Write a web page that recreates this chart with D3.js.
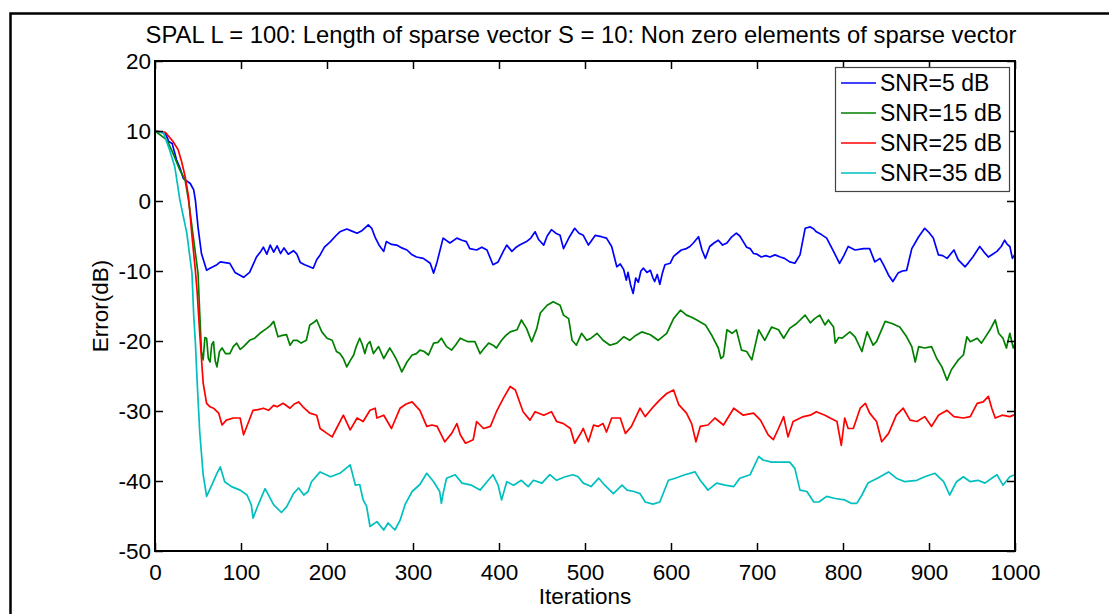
<!DOCTYPE html>
<html>
<head>
<meta charset="utf-8">
<script src="https://cdn.jsdelivr.net/npm/d3@7"></script>
<style>
  html, body { margin: 0; padding: 0; background: #fff; }
  svg { display: block; }
  text { font-family: "Liberation Sans", Arial, sans-serif; fill: #000; }
</style>
</head>
<body>
<svg id="chart" width="1109" height="614"></svg>
<script>
// Error curves (dB) versus iteration for the SPAL sparse-recovery run, one per SNR.
const seriesNames = ["SNR=5 dB", "SNR=15 dB", "SNR=25 dB", "SNR=35 dB"];
const seriesColors = ["#0000ff", "#008000", "#ff0000", "#00bfbf"];

const snr5 = [[0,10],[12,9.7],[16,8.5],[20,8.2],[25,5.9],[29,4.7],[33,3.2],[41,2.5],[45,1.6],[47,0.1],[50,-3.7],[54,-7.5],[60,-9.9],[64,-9.6],[72,-9.1],[76,-8.7],[87,-8.9],[93,-10.2],[103,-10.9],[110,-10.2],[118,-8],[123,-7.2],[126,-6.6],[130,-7.6],[134,-6.3],[138,-7.3],[142,-6.4],[146,-7.5],[150,-6.7],[155,-7.6],[161,-7.1],[165,-7.6],[169,-8.8],[174,-9.1],[184,-9.6],[188,-8.4],[192,-7.7],[197,-6.6],[204,-5.8],[210,-5.0],[215,-4.4],[223,-4.0],[229,-4.3],[235,-4.6],[241,-4.2],[248,-3.4],[252,-3.9],[256,-5.2],[261,-6.4],[266,-7.2],[269,-5.8],[275,-6.2],[281,-6.3],[287,-6.7],[293,-7.0],[298,-7.6],[304,-8.0],[312,-8.2],[320,-8.9],[324,-10.3],[328,-8.7],[335,-5.3],[343,-6.0],[351,-5.3],[357,-5.6],[362,-5.8],[366,-6.8],[374,-7.0],[380,-6.6],[386,-7.0],[393,-9.1],[399,-8.7],[405,-7.2],[409,-6.3],[415,-7.2],[420,-6.6],[424,-6.3],[432,-5.8],[437,-5.3],[442,-4.4],[446,-5.5],[452,-6.3],[456,-5.0],[461,-4.1],[466,-4.6],[471,-4.9],[475,-6.8],[482,-5.1],[488,-3.9],[493,-4.6],[498,-4.9],[504,-6.3],[512,-4.9],[519,-5.1],[525,-5.3],[531,-6.5],[537,-9.4],[541,-9.0],[545,-9.8],[548,-11.3],[550,-10.2],[553,-12.0],[556,-13.2],[559,-11.0],[562,-11.6],[565,-10.0],[568,-9.6],[572,-10.2],[576,-9.9],[579,-11.0],[581,-11.5],[584,-10.5],[587,-11.9],[590,-10.3],[593,-9.1],[599,-8.9],[603,-7.9],[607,-7.5],[612,-7.0],[618,-6.8],[622,-6.5],[626,-6.0],[632,-5.1],[636,-7.0],[640,-8.2],[645,-6.5],[650,-6.0],[655,-5.6],[660,-6.3],[665,-6.0],[670,-5.2],[676,-4.6],[680,-5.0],[684,-5.8],[688,-6.6],[692,-6.8],[696,-7.5],[700,-7.6],[705,-8.0],[710,-7.8],[715,-8.0],[721,-7.7],[727,-8.0],[732,-8.2],[738,-8.7],[744,-8.9],[750,-7.7],[756,-3.9],[762,-3.7],[766,-4.0],[769,-4.4],[775,-4.8],[781,-5.3],[789,-7.2],[796,-8.9],[801,-7.8],[806,-6.5],[814,-7.0],[824,-6.8],[831,-6.8],[837,-8.7],[843,-8.2],[847,-9.1],[853,-10.6],[858,-11.5],[864,-10.3],[869,-10.0],[874,-9.9],[880,-6.8],[888,-5.1],[895,-3.9],[900,-4.5],[905,-5.3],[911,-7.7],[916,-7.8],[921,-8.2],[929,-7.0],[934,-8.4],[942,-9.4],[946,-8.8],[951,-8.0],[959,-6.5],[964,-7.3],[969,-8.0],[974,-7.6],[979,-7.2],[984,-6.5],[988,-5.6],[991,-6.2],[994,-6.5],[997,-8.2],[1000,-7.6]];

const snr15 = [[0,10],[14,8.7],[21,6.8],[29,4.4],[35,3.0],[39,0.1],[45,-5.6],[50,-10.3],[52,-16],[54,-21.5],[56,-22.7],[58,-19.5],[60,-19.6],[62,-22.5],[64,-23],[66,-20.5],[68,-20.1],[70,-22.8],[72,-23.7],[75,-21.5],[78,-21],[82,-21.8],[87,-21.8],[91,-20.8],[95,-20.3],[99,-21.2],[103,-20.8],[110,-19.9],[116,-19.6],[122,-18.9],[130,-18.2],[134,-17.8],[138,-17.2],[143,-19.4],[148,-19.2],[153,-19.1],[157,-20.6],[161,-19.9],[165,-19.9],[170,-20.3],[176,-19.9],[180,-17.7],[184,-17.4],[188,-17.0],[194,-18.7],[200,-19.6],[206,-19.9],[211,-21.5],[215,-21.8],[219,-22.5],[223,-23.7],[227,-22.8],[231,-22],[234,-20.8],[238,-19.6],[241,-20.5],[244,-21.8],[247,-20.5],[250,-20.1],[254,-21.8],[260,-20.8],[266,-22.5],[273,-21],[277,-21.8],[281,-22.7],[287,-24.4],[293,-23],[299,-22],[304,-21.8],[308,-21.3],[313,-21.5],[318,-22],[324,-20.3],[329,-20.2],[333,-19.6],[339,-20.8],[345,-21.3],[350,-20.5],[355,-19.6],[360,-19.9],[364,-20.1],[372,-20.1],[378,-21.8],[383,-21],[388,-20.3],[393,-20.6],[397,-21],[403,-19.9],[408,-19.2],[413,-18.7],[421,-18.4],[426,-17],[432,-18.2],[438,-20.1],[444,-18.2],[448,-16],[456,-14.9],[463,-14.4],[471,-14.9],[475,-16.3],[481,-16.8],[485,-19.9],[490,-20.6],[496,-18.9],[502,-19.9],[507,-19.6],[514,-18.9],[521,-19.9],[529,-20.6],[537,-20.3],[545,-19.4],[552,-19.9],[559,-19.2],[566,-18.7],[576,-19.1],[585,-19.9],[595,-18.9],[603,-16.8],[611,-15.6],[618,-16.3],[624,-16.6],[630,-17],[640,-17.7],[647,-19.1],[655,-21],[658,-22.5],[661,-22.2],[665,-18.4],[671,-18.9],[676,-18.4],[682,-21.3],[688,-21.5],[694,-22.7],[702,-18.4],[709,-19.9],[717,-18],[725,-18.4],[731,-19.6],[738,-18.2],[746,-17.5],[756,-16.3],[762,-17.4],[767,-16.8],[773,-16.3],[779,-17.7],[783,-17],[789,-18],[791,-20.3],[795,-19.5],[799,-19.6],[808,-18.7],[814,-19.4],[822,-21.5],[828,-18.7],[835,-20.6],[839,-20.1],[849,-17.2],[857,-17.5],[866,-18],[874,-19.4],[880,-20.8],[884,-23],[888,-20.8],[895,-21],[903,-20.8],[909,-22.5],[915,-23.7],[921,-25.6],[926,-24.1],[934,-22.7],[940,-22],[944,-19.4],[948,-20.1],[956,-19.6],[961,-20.3],[971,-18.4],[977,-17],[981,-18.9],[986,-19.6],[990,-21],[994,-18.9],[998,-21],[1000,-20.4]];

const snr25 = [[0,10],[12,9.8],[21,8.5],[27,7.3],[31,5.6],[35,3.5],[39,0.6],[43,-5],[47,-10],[49,-13],[52,-18.9],[56,-26],[60,-28.9],[64,-29.4],[68,-29.6],[74,-30.3],[78,-32],[83,-31.3],[91,-31],[99,-31],[103,-33.4],[109,-31.5],[114,-29.9],[120,-29.8],[126,-29.6],[132,-29.9],[138,-29.2],[142,-29.4],[149,-28.9],[157,-29.6],[162,-29.0],[167,-28.7],[172,-29.4],[180,-30.3],[188,-30.6],[192,-32.5],[200,-33.2],[206,-33.7],[211,-32.5],[219,-30.6],[227,-32.7],[235,-31],[242,-31.5],[250,-29.9],[256,-29.6],[258,-31],[266,-30.6],[275,-32.5],[285,-29.6],[292,-29],[299,-28.7],[308,-29.9],[316,-32.2],[322,-32.0],[328,-32.2],[337,-34.4],[345,-33.2],[351,-31.8],[355,-33.4],[361,-34.6],[370,-34.1],[374,-31.5],[382,-32.5],[390,-32.2],[397,-30.1],[405,-28.2],[413,-26.5],[419,-27],[428,-30.1],[436,-31.3],[442,-30.1],[452,-30.6],[461,-30.1],[467,-31.5],[475,-31.8],[483,-32.5],[488,-34.6],[494,-33.4],[498,-32.5],[504,-34.4],[510,-32],[515,-32.2],[521,-31.8],[525,-33],[531,-31],[541,-31],[547,-33.2],[554,-32.2],[564,-29.6],[570,-30.8],[578,-29.6],[587,-28.4],[595,-27.5],[603,-27],[609,-29.1],[618,-30.3],[624,-31.8],[629,-34.4],[634,-32.2],[643,-32],[651,-31],[661,-32],[673,-29.6],[684,-30.6],[696,-30.3],[704,-31.3],[713,-33.4],[719,-34.1],[725,-32.5],[731,-30.8],[736,-33.7],[742,-31.5],[754,-30.8],[762,-30.6],[769,-30.1],[779,-30.6],[785,-31],[793,-31.5],[798,-34.9],[802,-31],[806,-32.5],[812,-32.5],[820,-29.6],[826,-28.9],[831,-30.3],[839,-31.5],[845,-34.4],[853,-33.2],[862,-30.6],[870,-29.6],[878,-31.3],[886,-31.5],[895,-30.8],[903,-32.2],[911,-30.6],[921,-29.9],[929,-30.8],[940,-31],[948,-30.8],[956,-28.9],[963,-28.7],[969,-27.9],[973,-29.6],[977,-31],[985,-30.6],[994,-30.8],[1000,-30.5]];

const snr35 = [[0,10],[10,9.7],[17,7.3],[23,4.9],[29,0.1],[37,-4.6],[43,-10.3],[45,-16.3],[47,-20.3],[49,-25.8],[52,-33],[56,-39.1],[60,-42.2],[66,-40.6],[72,-38.9],[76,-38],[81,-40.1],[89,-40.8],[99,-41.3],[107,-42],[112,-43.4],[114,-45.3],[120,-43.4],[128,-41.1],[138,-43.4],[147,-44.5],[153,-43.7],[161,-41.8],[167,-41],[173,-42],[178,-41.5],[182,-40.1],[192,-38.7],[204,-39.4],[215,-38.9],[227,-37.7],[233,-40.6],[238,-40.5],[242,-42.7],[246,-43.6],[250,-46.5],[258,-45.8],[266,-47],[271,-46],[279,-47],[285,-45.6],[291,-43.3],[299,-41.5],[308,-40.5],[316,-38.9],[324,-40.1],[331,-41.5],[333,-43.2],[335,-41.8],[339,-39.6],[349,-39.1],[357,-40.3],[368,-40.6],[378,-41.3],[386,-40.1],[393,-39.1],[399,-40.6],[403,-42.7],[409,-40.1],[417,-40.6],[426,-39.9],[434,-40.8],[440,-39.9],[450,-40.3],[459,-39.1],[467,-39.9],[477,-39.4],[486,-39.1],[492,-39.4],[498,-40.3],[504,-40.6],[507,-40.8],[516,-39.6],[523,-40.6],[533,-41.8],[543,-40.6],[549,-41.3],[557,-41.5],[564,-41.8],[570,-43],[579,-43.3],[587,-43],[597,-39.9],[605,-39.6],[616,-39.1],[628,-38.7],[634,-39.9],[643,-41.3],[653,-40.3],[663,-40.6],[673,-40.8],[680,-39.6],[692,-39.1],[702,-36.5],[707,-37],[717,-37.3],[727,-37.3],[738,-37.3],[744,-38.2],[750,-41.3],[758,-41.5],[766,-43],[772,-43],[781,-42.2],[791,-42.5],[802,-42.7],[810,-43.2],[816,-43.2],[822,-42],[829,-40.3],[840,-39.6],[853,-38.7],[862,-39.6],[872,-40.1],[886,-39.9],[895,-39.4],[907,-38.9],[917,-40.1],[924,-42],[932,-40.1],[940,-39.4],[948,-40.1],[957,-39.9],[965,-40.3],[973,-39.6],[979,-39.1],[986,-40.6],[994,-39.4],[1000,-39.1]];

const xTicks = [0, 100, 200, 300, 400, 500, 600, 700, 800, 900, 1000];
const yTicks = [20, 10, 0, -10, -20, -30, -40, -50];

const titleText = "SPAL L = 100: Length of sparse vector S = 10: Non zero elements of sparse vector";
const xLabel = "Iterations";
const yLabel = "Error(dB)";

const allSeries = [snr5, snr15, snr25, snr35];

// ---- layout ----
const svg = d3.select("#chart");
const plot = { left: 155, right: 1015, top: 61, bottom: 551 };

const x = d3.scaleLinear().domain([0, 1000]).range([plot.left, plot.right]);
const y = d3.scaleLinear().domain([-50, 20]).range([plot.bottom, plot.top]);

// plain integer labels with an ASCII hyphen for negatives
const plainNumber = d => String(d);

// figure frame
svg.append("rect")
  .attr("x", 10.5).attr("y", 13.5)
  .attr("width", 1200).attr("height", 700)
  .attr("fill", "none").attr("stroke", "#000").attr("stroke-width", 2.5);

// clip for the data lines
svg.append("defs").append("clipPath").attr("id", "plotClip")
  .append("rect")
  .attr("x", plot.left).attr("y", plot.top)
  .attr("width", plot.right - plot.left).attr("height", plot.bottom - plot.top);

const line = d3.line().x(d => x(d[0])).y(d => y(d[1]));

svg.append("g").attr("clip-path", "url(#plotClip)")
  .selectAll("path")
  .data(allSeries)
  .join("path")
  .attr("d", line)
  .attr("fill", "none")
  .attr("stroke", (d, i) => seriesColors[i])
  .attr("stroke-width", 1.7)
  .attr("stroke-linejoin", "round");

// axes with inward ticks on all four sides
const tickLen = 8;
const fontTick = 22.5;

const bottomAxis = d3.axisBottom(x).tickValues(xTicks).tickFormat(plainNumber)
  .tickSizeInner(-tickLen).tickSizeOuter(0).tickPadding(13);
const topAxis = d3.axisTop(x).tickValues(xTicks).tickSizeInner(-tickLen).tickSizeOuter(0).tickFormat("");
const leftAxis = d3.axisLeft(y).tickValues(yTicks).tickFormat(plainNumber)
  .tickSizeInner(-tickLen).tickSizeOuter(0).tickPadding(4);
const rightAxis = d3.axisRight(y).tickValues(yTicks).tickSizeInner(-tickLen).tickSizeOuter(0).tickFormat("");

function styleAxis(g) {
  g.select(".domain").remove();
  g.selectAll(".tick line").attr("stroke", "#000").attr("stroke-width", 1.5);
  g.selectAll(".tick text")
    .attr("font-family", "Liberation Sans, Arial, sans-serif")
    .attr("font-size", fontTick)
    .attr("fill", "#000");
}

svg.append("g").attr("transform", `translate(0,${plot.bottom})`).call(bottomAxis).call(styleAxis);
svg.append("g").attr("transform", `translate(0,${plot.top})`).call(topAxis).call(styleAxis);
svg.append("g").attr("transform", `translate(${plot.left},0)`).call(leftAxis).call(styleAxis);
svg.append("g").attr("transform", `translate(${plot.right},0)`).call(rightAxis).call(styleAxis);

// axes box
svg.append("rect")
  .attr("x", plot.left).attr("y", plot.top)
  .attr("width", plot.right - plot.left).attr("height", plot.bottom - plot.top)
  .attr("fill", "none").attr("stroke", "#000").attr("stroke-width", 2);

// title and axis labels
svg.append("text")
  .attr("x", 581).attr("y", 43)
  .attr("text-anchor", "middle")
  .attr("font-size", 23.8)
  .text(titleText);

svg.append("text")
  .attr("x", (plot.left + plot.right) / 2).attr("y", 604)
  .attr("text-anchor", "middle")
  .attr("font-size", 22.5)
  .text(xLabel);

svg.append("text")
  .attr("transform", `translate(108,${(plot.top + plot.bottom) / 2}) rotate(-90)`)
  .attr("text-anchor", "middle")
  .attr("font-size", 22.5)
  .text(yLabel);

// legend
const legend = svg.append("g");
legend.append("rect")
  .attr("x", 835.5).attr("y", 67.5)
  .attr("width", 174).attr("height", 124)
  .attr("fill", "#fff").attr("stroke", "#444").attr("stroke-width", 1.2);

const legendRow = d3.scalePoint().domain(seriesNames).range([83, 173]);

const items = legend.selectAll("g.item")
  .data(seriesNames)
  .join("g").attr("class", "item")
  .attr("transform", d => `translate(0,${legendRow(d)})`);

items.append("line")
  .attr("x1", 841).attr("x2", 876)
  .attr("stroke", (d, i) => seriesColors[i])
  .attr("stroke-width", 1.7);

items.append("text")
  .attr("x", 880).attr("dy", "0.35em")
  .attr("font-size", 23)
  .text(d => d);
</script>
</body>
</html>
